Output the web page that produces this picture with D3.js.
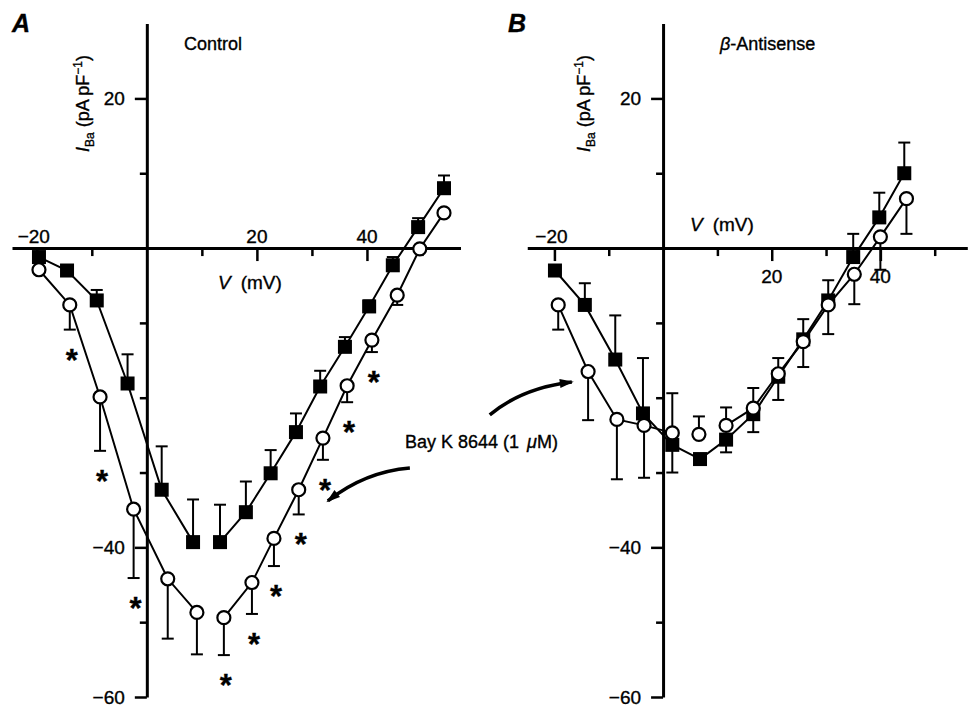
<!DOCTYPE html>
<html>
<head>
<meta charset="utf-8">
<script src="https://cdn.jsdelivr.net/npm/d3@7"></script>
<style>
  body { margin: 0; background: #fff; }
  svg { display: block; font-family: 'Liberation Sans', Arial, Helvetica, sans-serif; }
  svg text { fill: #000; stroke: #000; stroke-width: 0.35px; }
  .axis text { font-size: 19px; font-family: 'Liberation Sans', Arial, sans-serif; }
</style>
</head>
<body>
<div id="chart"></div>
<script>
// Panel A - Control (filled squares = control, open circles = Bay K 8644)
const ctrlV = [-19.6, -14.5, -9.1, -3.5, 2.7, 8.4, 13.3, 18, 22.5, 27.1, 31.5, 36, 40.4, 44.7, 49.3, 54]
const ctrlI = [-1.2, -3.0, -7.0, -18.1, -32.3, -39.3, -39.3, -35.3, -30.1, -24.6, -18.5, -13.2, -7.8, -2.3, 2.8, 8.0]
const ctrlErrUp = [0, 0, 1.4, 3.9, 5.8, 5.7, 5.0, 4.1, 3.1, 2.5, 2.1, 1.3, 0.8, 1.1, 1.2, 1.7]
const ctrlBayV = [-19.6, -14, -8.5, -2.4, 3.8, 9.1, 14, 19.1, 23.1, 27.6, 32, 36.4, 40.9, 45.5, 49.6, 54]
const ctrlBayI = [-2.9, -7.6, -19.9, -34.9, -44.2, -48.7, -49.4, -44.7, -38.8, -32.3, -25.4, -18.4, -12.3, -6.3, -0.1, 4.7]
const ctrlBayErrDown = [0, 3.3, 7.2, 9.2, 8.0, 5.6, 5.0, 4.2, 3.7, 3.3, 2.9, 2.2, 1.6, 1.3, 0, 0]
const ctrlBayStar = [0, 1, 1, 1, 0, 0, 1, 1, 1, 1, 1, 1, 1, 0, 0, 0]

// Panel B - beta-antisense
const asV = [-19.9, -14.4, -8.8, -3.7, 1.7, 6.8, 11.6, 16.6, 21.2, 25.8, 30.4, 35.0, 39.8, 44.4]
const asI = [-3.0, -7.6, -14.9, -22.1, -26.3, -28.2, -25.6, -22.2, -17.2, -12.2, -7.0, -1.2, 4.1, 10.0]
const asErrUp = [0, 2.9, 5.9, 7.4, 0, 0, 0, 0, 0, 0, 2.7, 3.1, 3.3, 4.1]
const asErrDown = [0, 0, 0, 0, 3.7, 0, 1.7, 2.4, 3.1, 3.7, 0, 0, 0, 0]
const asBayV = [-19.3, -13.8, -8.5, -3.5, 1.7, 6.6, 11.6, 16.6, 21.2, 25.8, 30.4, 35.2, 40.0, 44.8]
const asBayI = [-7.6, -16.5, -22.9, -23.7, -24.7, -24.9, -23.7, -21.4, -16.8, -12.5, -7.6, -3.5, 1.5, 6.6]
const asBayErrUp = [0, 0, 0, 0, 5.3, 2.4, 2.4, 2.7, 2.1, 3.0, 0, 0, 0, 0]
const asBayErrDown = [3.3, 6.5, 8.0, 7.0, 0, 0, 0, 0, 0, 0, 3.9, 4.0, 4.4, 4.7]

// axis ticks
const yTicks = [20, 10, -10, -20, -30, -40, -50, -60]
const yLabels = [20, -40, -60]
const xTicks = [-20, -10, 10, 20, 30, 40, 50]
const xLabels = [-20, 20, 40]

const width = 968, height = 707
const svg = d3.select('#chart').append('svg')
    .attr('width', width)
    .attr('height', height)

svg.append('defs').append('marker')
    .attr('id', 'head')
    .attr('markerUnits', 'userSpaceOnUse')
    .attr('viewBox', '0 -5 14 10')
    .attr('refX', 12)
    .attr('refY', 0)
    .attr('markerWidth', 15)
    .attr('markerHeight', 10)
    .attr('orient', 'auto')
  .append('path')
    .attr('d', 'M0,-4.5L14,0L0,4.5Z')
    .attr('fill', '#000')

const y = d3.scaleLinear().domain([-60, 30]).range([697, 23.6])
const fmt = d3.format('d')

const panels = [
    {
        letter: 'A', letterX: 12, title: 'Control', titleX: 184, title_beta: false,
        x: d3.scaleLinear().domain([-24.5, 57]).range([12, 460.5]),
        ylabX: 89, vlab: [218, 289], below: [],
        series: [
            { v: ctrlV, i: ctrlI, up: ctrlErrUp, breaks: [6], open: false },
            { v: ctrlBayV, i: ctrlBayI, down: ctrlBayErrDown, breaks: [6], open: true, star: ctrlBayStar }
        ],
        arrow: [[47.8, -29.4], [39.6, -29.9], [32.9, -33.8]]
    },
    {
        letter: 'B', letterX: 508, title: 'Antisense', titleX: 720, title_beta: true,
        x: d3.scaleLinear().domain([-25, 56]).range([527.25, 967.3]),
        ylabX: 590, vlab: [690, 231], below: [20, 40],
        series: [
            { v: asV, i: asI, up: asErrUp, down: asErrDown, breaks: [], open: false },
            { v: asBayV, i: asBayI, up: asBayErrUp, down: asBayErrDown, breaks: [5, 6], open: true }
        ],
        arrow: [[-31.9, -22.3], [-26, -18.7], [-16.8, -17.9]]
    }
]

panels.forEach(p => drawPanel(p))

function drawPanel (p) {
    const x = p.x
    const g = svg.append('g')
    const x0 = x(0), y0 = y(0)

    // y axis
    const ya = g.append('g')
        .attr('class', 'axis')
        .attr('transform', `translate(${x0},0)`)
        .call(d3.axisLeft(y).tickValues(yTicks).tickSizeOuter(0)
            .tickFormat(d => yLabels.includes(d) ? fmt(d) : ''))
    ya.select('.domain').attr('stroke-width', 3)
    ya.selectAll('.tick line')
        .attr('x2', d => yLabels.includes(d) ? -12 : -7)
        .attr('stroke-width', 2.5)
    ya.selectAll('.tick text').attr('x', -22)

    // x axis
    const xa = g.append('g')
        .attr('class', 'axis')
        .attr('transform', `translate(0,${y0})`)
        .call(d3.axisBottom(x).tickValues(xTicks).tickSizeOuter(0).tickFormat(''))
    xa.select('.domain').attr('stroke-width', 3)
    xa.selectAll('.tick line')
        .attr('y2', d => xLabels.includes(d) ? 13 : 8)
        .attr('stroke-width', 2.5)
    xa.selectAll('.xlab')
        .data(xLabels)
        .join('text')
        .attr('class', 'xlab')
        .attr('x', d => x(d) - (d < 0 ? 3 : 0))
        .attr('y', d => p.below.includes(d) ? 35 : -5)
        .attr('text-anchor', 'middle')
        .text(d => fmt(d))

    // y axis title
    const yt = g.append('text')
        .attr('transform', `translate(${p.ylabX},152) rotate(-90)`)
        .attr('font-size', 18)
    yt.append('tspan').attr('font-style', 'italic').text('I')
    yt.append('tspan').attr('font-size', 12).attr('dy', 5).text('Ba')
    yt.append('tspan').attr('dy', -5).attr('dx', 5).text('(pA\u2009pF')
    yt.append('tspan').attr('font-size', 12).attr('dy', -7).text('\u22121')
    yt.append('tspan').attr('dy', 7).text(')')

    // x axis title
    const xt = g.append('text')
        .attr('x', p.vlab[0])
        .attr('y', p.vlab[1])
        .attr('font-size', 19)
    xt.append('tspan').attr('font-style', 'italic').text('V')
    xt.append('tspan').attr('dx', 10).text('(mV)')

    // panel letter and title
    g.append('text')
        .attr('x', p.letterX).attr('y', 32)
        .attr('font-size', 25).attr('font-weight', 'bold').attr('font-style', 'italic')
        .text(p.letter)
    const tt = g.append('text').attr('x', p.titleX).attr('y', 50).attr('font-size', 18)
    if (p.title_beta) {
        tt.append('tspan').attr('font-style', 'italic').text('\u03b2')
        tt.append('tspan').text('-' + p.title)
    } else {
        tt.text(p.title)
    }

    // lines and error bars
    const line = d3.line().x(d => x(d.v)).y(d => y(d.i))
    p.series.forEach(s => {
        const pts = s.v.map((v, k) => ({ v, i: s.i[k], up: s.up ? s.up[k] : 0, down: s.down ? s.down[k] : 0 }))
        const segs = []
        let cur = []
        pts.forEach((d, k) => {
            if (s.breaks.includes(k)) { segs.push(cur); cur = [] }
            cur.push(d)
        })
        segs.push(cur)
        g.append('g').selectAll('path')
            .data(segs.filter(d => d.length > 1))
            .join('path')
            .attr('d', line)
            .attr('fill', 'none')
            .attr('stroke', '#000')
            .attr('stroke-width', 2)

        const bars = []
        pts.forEach(d => {
            if (d.up > 0) bars.push({ v: d.v, a: d.i, b: d.i + d.up })
            if (d.down > 0) bars.push({ v: d.v, a: d.i, b: d.i - d.down })
        })
        const eb = g.append('g').attr('stroke', '#000').attr('stroke-width', 2)
        eb.selectAll('.bar').data(bars).join('line')
            .attr('x1', d => x(d.v)).attr('x2', d => x(d.v))
            .attr('y1', d => y(d.a)).attr('y2', d => y(d.b))
        eb.selectAll('.cap').data(bars).join('line')
            .attr('x1', d => x(d.v) - 6).attr('x2', d => x(d.v) + 6)
            .attr('y1', d => y(d.b)).attr('y2', d => y(d.b))

        if (s.star) {
            g.append('g').selectAll('text')
                .data(pts.filter((d, k) => s.star[k]))
                .join('text')
                .attr('x', d => x(d.v) + 2)
                .attr('y', d => y(d.i - d.down) + 24 + 17)
                .attr('text-anchor', 'middle')
                .attr('font-size', 31)
                .attr('font-weight', 'bold')
                .text('*')
        }
        s.pts = pts
    })

    // markers: squares first, circles on top
    p.series.forEach(s => {
        const m = g.append('g')
        if (s.open) {
            m.selectAll('circle').data(s.pts).join('circle')
                .attr('cx', d => x(d.v)).attr('cy', d => y(d.i))
                .attr('r', 6.5)
                .attr('fill', '#fff').attr('stroke', '#000').attr('stroke-width', 2.2)
        } else {
            m.selectAll('rect').data(s.pts).join('rect')
                .attr('x', d => x(d.v) - 7).attr('y', d => y(d.i) - 7)
                .attr('width', 14).attr('height', 14)
                .attr('fill', '#000')
        }
    })

    // arrow pointing to the Bay K 8644 curve
    const [a0, a1, a2] = p.arrow
    g.append('path')
        .attr('d', `M${x(a0[0])},${y(a0[1])}Q${x(a1[0])},${y(a1[1])} ${x(a2[0])},${y(a2[1])}`)
        .attr('fill', 'none')
        .attr('stroke', '#000')
        .attr('stroke-width', 3.5)
        .attr('marker-end', 'url(#head)')
}

// shared label
const bay = svg.append('text').attr('x', 405).attr('y', 448).attr('font-size', 18)
bay.append('tspan').text('Bay K 8644 (1')
bay.append('tspan').attr('dx', 8).attr('font-style', 'italic').text('\u03bc')
bay.append('tspan').text('M)')
</script>
</body>
</html>
